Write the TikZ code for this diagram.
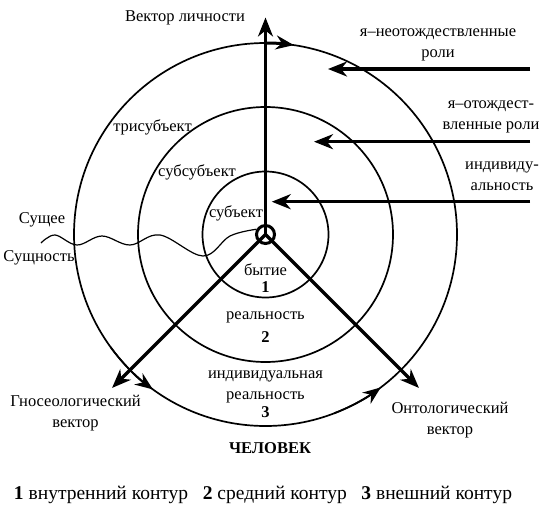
\documentclass[tikz,border=0pt]{standalone}
\usepackage{fontspec}
\setmainfont{Liberation Serif}
\usepackage{tikz}
\usetikzlibrary{arrows.meta, calc}

\begin{document}
\begin{tikzpicture} [x=1pt, y=-1pt,
	contour/.style={line width=1.7pt},
	vec/.style={line width=3.2pt, -{Stealth[length=19pt, width=15pt, inset=6pt]}},
	turn/.style={line width=1.7pt, -{Stealth[length=18pt, width=14pt, inset=6pt]}},
	lbl/.style={font=\fontsize{16.5}{21}\selectfont, align=center, inner sep=0pt},
	num/.style={font=\fontsize{16.5}{21}\selectfont\bfseries, inner sep=0pt}]
	
	\useasboundingbox (0,0) rectangle (554,511);
	\coordinate (centre) at (265.5,234.5);
	
	% contours 1, 2, 3
	\draw[contour] (centre) circle[radius=63pt];
	\draw[contour] (centre) circle[radius=127.5pt];
	\draw[contour] (centre) circle[radius=191.5pt];
	
	% vectors
	\coordinate (lich) at ($(centre)+(90:217pt)$);
	\coordinate (gnos) at ($(centre)+(225:217pt)$);
	\coordinate (onto) at ($(centre)+(315:217pt)$);
	\draw[vec] (centre) -- (lich);
	\draw[vec] (centre) -- (gnos);
	\draw[vec] (centre) -- (onto);
	
	\coordinate (topturn) at ($(centre)+(90:191.5pt)$);
	\coordinate (gturn) at ($(centre)+(216:191.5pt)$);
	\coordinate (oturn) at ($(centre)+(291:191.5pt)$);
	\draw[turn, line width=3pt] (topturn) arc[start angle=90, end angle=81.5, radius=191.5pt];
	\draw[turn] (gturn) arc[start angle=216, end angle=234, radius=191.5pt];
	\draw[turn] (oturn) arc[start angle=291, end angle=307, radius=191.5pt];
	
	% roles from the right
	\coordinate (neo-r) at (530,69);    \coordinate (neo-t) at (328,69);
	\coordinate (oto-r) at (530,141.7); \coordinate (oto-t) at (314,141.7);
	\coordinate (ind-r) at (530,201.7); \coordinate (ind-t) at (271.7,201.7);
	\draw[vec] (neo-r) -- (neo-t);
	\draw[vec] (oto-r) -- (oto-t);
	\draw[vec] (ind-r) -- (ind-t);
	
	\node[draw, circle, line width=3pt, minimum size=18pt, inner sep=0pt] (core) at (centre) {};
	
	% Сущее / Сущность
	\draw[line width=1.2pt] plot[smooth, tension=0.6] coordinates {(41,243) (55,235) (77,245) (102,236) (130,245) (160,235) (203,256) (230,236) (core.150)};
	
	\node[lbl] (lich-lbl) at (185,18) {Вектор личности};
	\node[lbl] (neo-lbl) at (438,45) {я–неотождествленные\\роли};
	\node[lbl] (oto-lbl) at (491,116.5) {я–отождест-\\вленные роли};
	\node[lbl] (ind-lbl) at (502,176) {индивиду-\\альность};
	\node[lbl] (tri) at (152.5,127) {трисубъект};
	\node[lbl] (subsub) at (197,172) {субсубъект};
	\node[lbl] (sub) at (236,213) {субъект};
	\node[lbl] (sushchee) at (42,220) {Сущее};
	\node[lbl] (sushch) at (39,258) {Сущность};
	\node[lbl] (byt) at (265.5,270) {бытие};
	\node[num] (n1) at (265.5,286.7) {1};
	\node[lbl] (real) at (265.5,317) {реальность};
	\node[num] (n2) at (265.5,336.7) {2};
	\node[lbl] (ireal) at (265.5,386.5) {индивидуальная\\реальность};
	\node[num] (n3) at (265.5,411.7) {3};
	\node[lbl] (gnos-lbl) at (75.5,413.3) {Гносеологический\\вектор};
	\node[lbl] (onto-lbl) at (450,420.5) {Онтологический\\вектор};
	\node[num] (chel) at (270,448) {ЧЕЛОВЕК};
	
	\node[lbl, font=\fontsize{19.5}{23}\selectfont] (legend) at (263,495) {\textbf{1} внутренний контур\hspace{0.5em} \textbf{2} средний контур\hspace{0.5em} \textbf{3} внешний контур};
	
\end{tikzpicture}
\end{document}
